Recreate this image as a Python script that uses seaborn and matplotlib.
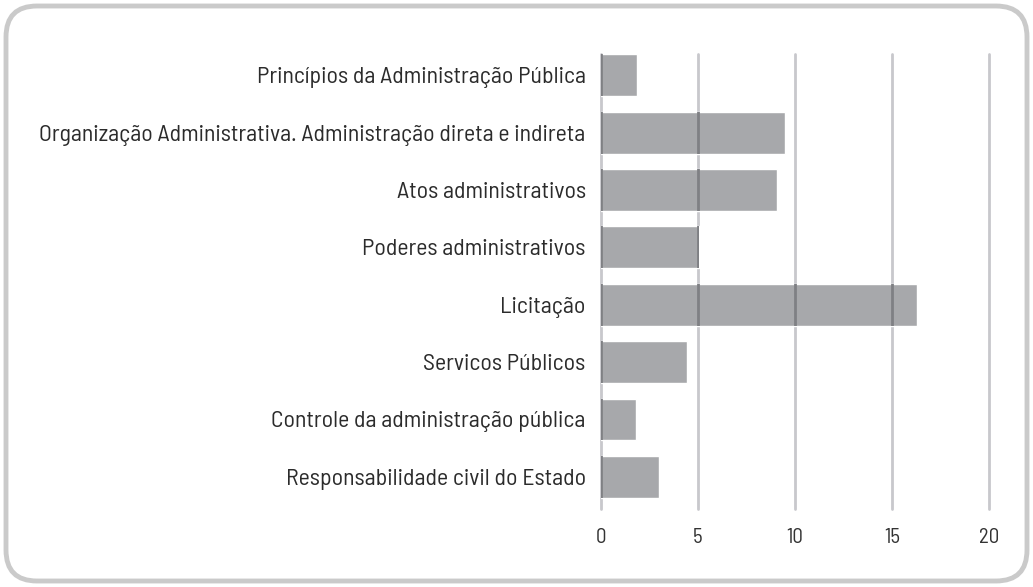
import matplotlib
matplotlib.use('Agg')
import matplotlib.pyplot as plt
from matplotlib import font_manager
from matplotlib.patches import FancyBboxPatch
import seaborn as sns
import pandas as pd

# dados
temas = ['Princípios da Administração Pública',
         'Organização Administrativa. Administração direta e indireta',
         'Atos administrativos',
         'Poderes administrativos',
         'Licitação',
         'Servicos Públicos',
         'Controle da administração pública',
         'Responsabilidade civil do Estado']
valores = [1.85, 9.5, 9.05, 5.05, 16.3, 4.45, 1.8, 3.0]
ticks_x = [0, 5, 10, 15, 20]

df = pd.DataFrame({'tema': temas, 'valor': valores})

sns.set_theme(style='white')
nomes = {f.name for f in font_manager.fontManager.ttflist}
fonte = 'Barlow Semi Condensed' if 'Barlow Semi Condensed' in nomes else 'DejaVu Sans'
plt.rcParams['font.family'] = [fonte, 'DejaVu Sans']

cor_barra = '#a7a8ab'
cor_grade = '#c8c8cc'
cor_grade_escura = '#7f8084'

fig = plt.figure(figsize=(10.33, 5.87), dpi=100)
ax = fig.add_axes([601 / 1033, 1 - 509 / 587, (989 - 601) / 1033, (509 - 54) / 587])

sns.barplot(data=df, x='valor', y='tema', color=cor_barra, saturation=1,
            width=0.73, ax=ax, zorder=2)

ax.set_xlim(0, 20)
ax.set_ylim(7.56, -0.37)
ax.set_xticks(ticks_x)
ax.set_xticklabels([str(t) for t in ticks_x])
ax.set_xlabel('')
ax.set_ylabel('')

# grade vertical clara por baixo
for t in ticks_x:
    ax.axvline(t, color=cor_grade, lw=2, zorder=1, clip_on=False)

# parte da grade sobre as barras fica mais escura (efeito multiplicar)
for barra in ax.patches:
    for t in ticks_x:
        linha = ax.axvline(t, color=cor_grade_escura, lw=2, zorder=3)
        linha.set_clip_path(barra)

for s in ax.spines.values():
    s.set_visible(False)

ax.tick_params(axis='y', length=0, pad=11, labelsize=16, labelcolor='#2b2b2b')
ax.tick_params(axis='x', length=0, pad=14, labelsize=15, labelcolor='#333333')

# ajusta o tamanho para o rótulo mais longo ocupar ~550 px como no original
fig.canvas.draw()
r = fig.canvas.get_renderer()
larg = max(t.get_window_extent(r).width for t in ax.get_yticklabels())
ax.tick_params(axis='y', labelsize=16 * 550 / larg)

# moldura arredondada
moldura = FancyBboxPatch((6 / 1033, 6 / 587), 1021 / 1033, 575 / 587,
                         boxstyle='round,pad=0,rounding_size=0.03',
                         transform=fig.transFigure, fill=False,
                         edgecolor='#cacaca', lw=3.5, zorder=0,
                         mutation_aspect=1033 / 587)
fig.patches.append(moldura)

fig.savefig('out.png', dpi=100)
